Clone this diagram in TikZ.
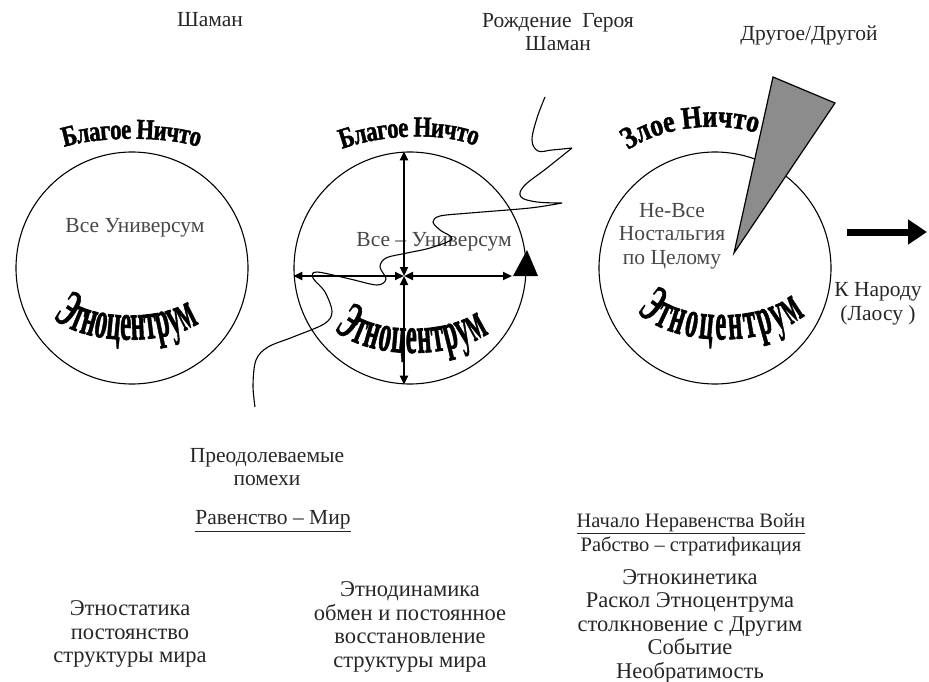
\documentclass[tikz,border=0pt]{standalone}
\usepackage{fontspec}
\setmainfont{Liberation Serif}
\newfontfamily\heavyfont[BoldFeatures={FakeBold=1.5}]{Liberation Serif}
\usetikzlibrary{arrows.meta,decorations.text,positioning}

\begin{document}
\begin{tikzpicture}[x=1pt, y=-1pt, >={Triangle[length=9pt,width=8pt]},
  ring/.style={draw, circle, minimum size=232pt, inner sep=0pt, line width=1.1pt},
  txt/.style={align=center, font=\fontsize{21.5}{23.5}\selectfont, text=black!85},
  btxt/.style={txt, font=\fontsize{22.5}{23.5}\selectfont},
  gtxt/.style={txt, text=black!72},
  axis/.style={<->, line width=2.4pt},
  bigarr/.style={-{Triangle[length=19pt,width=24pt]}, line width=7pt},
  wave/.style={line width=1.1pt},
  art/.style n args={3}{decorate, decoration={text effects along path, text={#1},
    text effects/.cd, text along path, fit text to path,
    characters={inner sep=0pt, yscale=#2, xscale=#3}, character widths={inner sep=0pt, xscale=#3}}},
  nothing/.style={font=\fontsize{23}{23}\heavyfont\bfseries\selectfont},
  ethno/.style={font=\fontsize{25}{25}\heavyfont\bfseries\selectfont}]
\useasboundingbox (0,0) rectangle (929,682);

% three stages of the ethnocentre
\node[ring] (eth1) at (132,268) {};
\node[ring] (eth2) at (410,268) {};
\node[ring] (eth3) at (715,268) {};

% arched titles
\path[art={Благое Ничто}{1.25}{1}, nothing] (64,147) .. controls (100,136) and (165,136) .. (199,147);
\path[art={Благое Ничто}{1.25}{1}, nothing] (342,149) .. controls (380,135) and (440,131) .. (476,146);
\path[art={Злое Ничто}{1.2}{1}, nothing, font=\fontsize{26}{26}\heavyfont\bfseries\selectfont] (628,150) .. controls (660,128) and (715,120) .. (757,133);
\path[art={Этноцентрум}{2.1}{1}, ethno] (53,318) .. controls (85,346) and (165,346) .. (199,323);
\path[art={Этноцентрум}{2.1}{1}, ethno] (334,330) .. controls (370,360) and (450,360) .. (489,333);
\path[art={Этноцентрум}{2.1}{1}, ethno] (637,312) .. controls (675,348) and (765,348) .. (805,315);

% texts inside the circles
\node[gtxt] (all1) at (135,228) {Все Универсум};
\node[gtxt] (all2) at (434,242) {Все – Универсум};
\node[gtxt] (notall) at (672,236) {Не-Все\\Ностальгия\\по Целому};

% cross of the world
\coordinate (hub) at (404,276);
\coordinate (tri) at (512,276);
\draw[axis] (hub) -- (hub |- eth2.north);
\draw[axis] (hub) -- (hub |- eth2.south);
\draw[axis] (hub) -- (eth2.west |- hub);
\draw[axis] (hub) -- (tri);
\fill (513,276) -- (538,276) -- (527,250) -- cycle;

% the Other breaking in
\filldraw[fill=black!45, line width=1.2pt] (734,253) -- (773,77) -- (835,103) -- cycle;

% the hero's way
\draw[wave] plot[smooth, tension=0.6] coordinates {(545,97) (537,118) (532,140) (538,151) (552,150) (572,148)}
  plot[smooth, tension=0.6] coordinates {(572,148) (547,168) (524,186) (521,197) (537,202) (562,203)}
  plot[smooth, tension=0.55] coordinates {(562,203) (530,208) (470,213) (440,216) (433,222) (440,230)
    (452,239) (430,248) (407,253) (386,258) (380,267) (386,279) (377,285) (350,279) (317,272)
    (313,278) (325,292) (332,312) (324,324) (293,337) (268,347) (256,360) (253,385) (255,407)};

% way out
\coordinate (go-a) at (847,232);
\coordinate (go-b) at (927,232);
\draw[bigarr] (go-a) -- (go-b);

% labels
\node[txt] (shaman) at (210,20) {Шаман};
\node[txt] (hero) at (558,32) {Рождение~~Героя\\Шаман};
\node[txt] (other) at (809,35) {Другое/Другой};
\node[txt] (people) at (878,304) {К Народу\\(Лаосу )};
\node[txt] (noise) at (267,467) {Преодолеваемые\\помехи};
\node[txt] (peace) at (273,521) {\underline{Равенство – Мир}};
\node[txt, font=\fontsize{20.5}{24}\selectfont] (war) at (691,535) {\underline{Начало Неравенства Войн}\\Рабство – стратификация};
\node[btxt] (statics) at (130,634) {Этностатика\\постоянство\\структуры мира};
\node[btxt] (dynamics) at (410,627) {Этнодинамика\\обмен и постоянное\\восстановление\\структуры мира};
\node[btxt] (kinetics) at (690,626) {Этнокинетика\\Раскол Этноцентрума\\столкновение с Другим\\Событие\\Необратимость};
\end{tikzpicture}
\end{document}
